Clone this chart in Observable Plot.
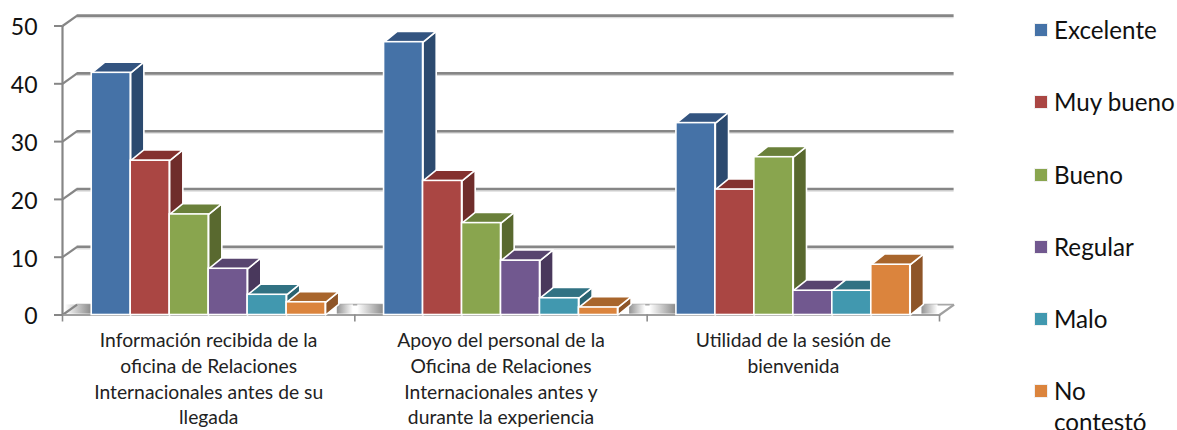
<!DOCTYPE html>
<html lang="es">
<head>
<meta charset="utf-8">
<script src="https://cdn.jsdelivr.net/npm/d3@7"></script>
<script src="https://cdn.jsdelivr.net/npm/@observablehq/plot@0.6"></script>
<style>
html,body{margin:0;padding:0;background:#fff;width:1177px;height:430px;overflow:hidden;position:relative;font-family:Lato,sans-serif}
#legend{position:absolute;left:1035px;top:-6px;width:142px}
.item{height:72.3px;font-size:24.2px;line-height:31px;color:#111;position:relative}
.item i{position:absolute;left:0;top:30px;width:12px;height:12px;outline:1px solid #f0f0f0}
.item span{position:absolute;left:19px;top:20px;white-space:pre-line}
</style>
</head>
<body>
<div id="chart"></div>
<div id="legend"></div>
<script>
const categories = [
  "Información recibida de la\noficina de Relaciones\nInternacionales antes de su\nllegada",
  "Apoyo del personal de la\nOficina de Relaciones\nInternacionales antes y\ndurante la experiencia",
  "Utilidad de la sesión de\nbienvenida"
];
const seriesNames = ["Excelente", "Muy bueno", "Bueno", "Regular", "Malo", "No contestó"];
const excelente = [41.9, 47.2, 33.2];
const muyBueno  = [26.7, 23.2, 21.7];
const bueno     = [17.4, 15.9, 27.3];
const regular   = [8.0, 9.4, 4.2];
const malo      = [3.5, 2.9, 4.2];
const noContesto = [2.2, 1.3, 8.7];
const frontColors = ["#4572A7", "#AA4643", "#89A54E", "#71588F", "#4198AF", "#DB843D"];
const sideColors  = ["#2C4A6F", "#6F2D2B", "#59692F", "#49385C", "#2A6371", "#8E5528"];
const topColors   = ["#335480", "#84312F", "#6A803A", "#58456F", "#317283", "#A8652C"];
const yTicks = [0, 10, 20, 30, 40, 50];
const xTicks = [0, 1, 2, 3];

const allSeries = [excelente, muyBueno, bueno, regular, malo, noContesto];
const gap = 0.1, barW = 0.8 / 6;          // category units
const depthX = 0.045, depthY = 1.85;      // bar depth in scale units
const wallX = 0.05, wallY = 1.8;          // wall depth in scale units

const bars = [];
categories.forEach((c, ci) => allSeries.forEach((vals, si) => {
  const x1 = ci + gap + si * barW;
  bars.push({x1, x2: x1 + barW, v: vals[ci], si, ci});
}));

const faces = [];
bars.forEach((b, i) => {
  const side = [[b.x2,0],[b.x2+depthX,depthY],[b.x2+depthX,b.v+depthY],[b.x2,b.v],[b.x2,0]];
  const top  = [[b.x1,b.v],[b.x1+depthX,b.v+depthY],[b.x2+depthX,b.v+depthY],[b.x2,b.v],[b.x1,b.v]];
  side.forEach(([x,y]) => faces.push({x, y, id: i + "s", color: sideColors[b.si]}));
  top.forEach(([x,y]) => faces.push({x, y, id: i + "t", color: topColors[b.si]}));
});

const shadowL = categories.map((c, i) => ({x1: i + gap - 0.09, x2: i + gap}));
const shadowR = categories.map((c, i) => ({x1: i + 1 - gap + depthX - 0.005, x2: i + 1 - gap + depthX + 0.05}));

function defs() {
  const d = d3.create("svg:defs");
  const mk = (id, a, b) => {
    const g = d.append("linearGradient").attr("id", id);
    g.append("stop").attr("offset", 0).attr("stop-color", a);
    g.append("stop").attr("offset", 1).attr("stop-color", b);
  };
  mk("shadeL", "#ffffff", "#8a8a8a");
  mk("shadeR", "#929292", "#ffffff");
  return d.node();
}

const GRID = "#868686";
const plot = Plot.plot({
  width: 1177, height: 430,
  marginLeft: 62, marginRight: 238, marginTop: 25.5, marginBottom: 115.5,
  style: {fontFamily: "Lato, sans-serif", background: "#fff", overflow: "hidden"},
  x: {domain: [0, 3]},
  y: {domain: [0, 50]},
  marks: [
    defs,
    // wall gridlines with soft lower edge
    Plot.ruleY(yTicks.slice(1), {y: d => d + wallY - 0.33, x1: wallX, x2: 3 + wallX, stroke: "#dcdcdc", strokeWidth: 1.5}),
    Plot.ruleY(yTicks.slice(1), {y: d => d + wallY, x1: wallX, x2: 3 + wallX, stroke: GRID, strokeWidth: 2.6}),
    Plot.ruleY([0], {y: d => d + wallY, x1: wallX, x2: 3 + wallX, stroke: "#a8a8a8", strokeWidth: 1.8}),
    // floor shadows
    Plot.rect(shadowL, {x1: "x1", x2: "x2", y1: 0.15, y2: wallY - 0.05, fill: "url(#shadeL)"}),
    Plot.rect(shadowR, {x1: "x1", x2: "x2", y1: 0.15, y2: wallY - 0.05, fill: "url(#shadeR)"}),
    // depth connectors
    Plot.link(yTicks, {x1: 0, y1: d => d, x2: wallX, y2: d => d + wallY, stroke: GRID, strokeWidth: 2.2}),
    Plot.link([0], {x1: 3, y1: 0, x2: 3 + wallX, y2: wallY, stroke: "#a0a0a0", strokeWidth: 2.2}),
    // front floor edge and value axis
    Plot.ruleY([0], {stroke: "#a0a0a0", strokeWidth: 2.2}),
    Plot.axisX({ticks: xTicks, tickFormat: () => "", tickSize: 7, stroke: "#8c8c8c", strokeWidth: 1.6, anchor: "bottom", label: null}),
    Plot.axisY({ticks: yTicks, tickFormat: () => "", tickSize: 8, stroke: GRID, strokeWidth: 2, anchor: "left", label: null}),
    Plot.axisY({ticks: yTicks, tickSize: 0, tickPadding: 25, dy: 2, fontSize: 23, fill: "#111", anchor: "left", label: null}),
    Plot.ruleX([0], {y1: 0, y2: 50, stroke: GRID, strokeWidth: 2.2}),
    // 3D bar faces
    Plot.line(faces, {x: "x", y: "y", z: "id", fill: "color", stroke: "#fff", strokeWidth: 1.6, curve: "linear", strokeLinejoin: "round"}),
    Plot.rect(bars, {x1: "x1", x2: "x2", y1: 0, y2: "v", fill: d => frontColors[d.si], stroke: "#fff", strokeWidth: 1.6}),
    // category labels
    Plot.text(categories, {
      x: (d, i) => i + 0.5, y: 0, text: d => d, dy: 14, lineAnchor: "top",
      lineHeight: 1.33, fontSize: 19.3, fill: "#222"
    })
  ]
});
document.getElementById("chart").append(plot);

const legend = d3.select("#legend");
seriesNames.forEach((n, i) => {
  const it = legend.append("div").attr("class", "item");
  it.append("i").style("background", frontColors[i]);
  it.append("span").text(n.replace(" contestó", "\ncontestó"));
});
</script>
</body>
</html>
